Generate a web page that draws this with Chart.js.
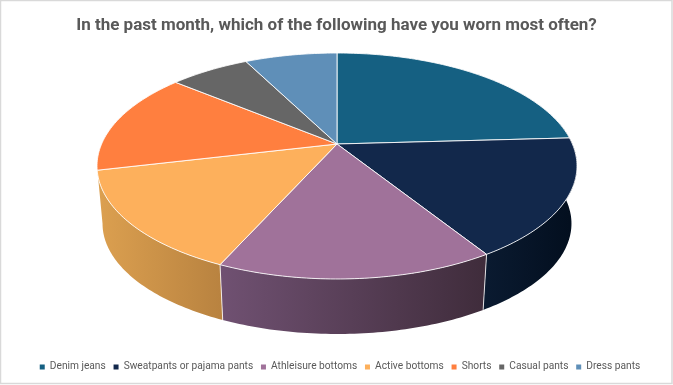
<!DOCTYPE html>
<html><head><meta charset="utf-8">
<style>html,body{margin:0;padding:0;background:#fff}#wrap{position:absolute;left:0;top:0;width:673px;height:385px}</style>
<script src="https://cdn.jsdelivr.net/npm/chart.js@4"></script>
</head><body><div id="wrap"><canvas id="c" width="673" height="385"></canvas></div>
<script>
const categories = ["Denim jeans","Sweatpants or pajama pants","Athleisure bottoms","Active bottoms","Shorts","Casual pants","Dress pants"];
const shares = [24.1,17,15.6,14.6,14.7,6.5,7.5];
const colors = ["#156082","#12284B","#A0729A","#FDB05C","#FF7F3F","#666666","#5F8FB8"];
const wallLeft = ["#0E4157","#0A1A30","#705172","#DCA050","#D96A33","#444444","#3F6080"];
const wallRight = ["#0B3040","#030F1F","#3F2C3B","#B98340","#C46030","#333333","#33506A"];
const titleText = "In the past month, which of the following have you worn most often?";

// perspective projection of the unit disc
const P = {cx:337, cy:144, A:235.4, B:108.7, k:0.1947, s:0.977, vy:2670};
const leftTangent = Math.PI - Math.asin(P.k);
function topPt(a){ // a: chart.js angle, -PI/2 is 12 o'clock
  const u=Math.cos(a), v=Math.sin(a), w=1-P.k*v;
  return [P.cx+P.A*u/w, P.cy+P.B*v/w];
}
function botPt(a){
  const [x,y]=topPt(a);
  return [P.cx+(x-P.cx)*P.s, P.vy-(P.vy-y)*P.s];
}
function rim(ctx,a0,a1,f,move){
  const n=Math.max(2,Math.ceil(Math.abs(a1-a0)*60));
  for(let i=0;i<=n;i++){
    const p=f(a0+(a1-a0)*i/n);
    if(i===0&&move) ctx.moveTo(p[0],p[1]); else ctx.lineTo(p[0],p[1]);
  }
}
Chart.ArcElement.prototype.draw=function(ctx){
  const o=this.options;
  ctx.save();
  ctx.beginPath();
  ctx.moveTo(P.cx,P.cy);
  rim(ctx,this.startAngle,this.endAngle,topPt,false);
  ctx.closePath();
  ctx.fillStyle=o.backgroundColor;
  ctx.fill();
  ctx.strokeStyle='rgba(255,255,255,0.85)';
  ctx.lineWidth=1;
  ctx.lineJoin='round';
  ctx.stroke();
  ctx.restore();
};
const walls={id:'walls',beforeDatasetsDraw(chart){
  const ctx=chart.ctx, arcs=chart.getDatasetMeta(0).data;
  arcs.forEach((arc,i)=>{
    if(arc.startAngle>=leftTangent-0.05) return;
    const front0=Math.max(arc.startAngle,-0.2);
    const front1=arc.endAngle>=leftTangent-0.05?leftTangent:arc.endAngle;
    if(front1<=front0) return;
    const a=topPt(front0), b=topPt(front1);
    const g=ctx.createLinearGradient(Math.min(a[0],b[0]),0,Math.max(a[0],b[0]),0);
    g.addColorStop(0,wallLeft[i]); g.addColorStop(1,wallRight[i]);
    ctx.save();
    ctx.beginPath();
    rim(ctx,front0,front1,topPt,true);
    rim(ctx,front1,front0,botPt,false);
    ctx.closePath();
    ctx.fillStyle=g; ctx.fill();
    ctx.restore();
  });
  // seams between wall faces
  ctx.save();
  ctx.strokeStyle='rgba(255,255,255,0.8)'; ctx.lineWidth=1;
  arcs.forEach(arc=>{
    const a=arc.startAngle;
    if(a>-0.05&&a<leftTangent-0.05){
      const p=topPt(a),q=botPt(a);
      ctx.beginPath();ctx.moveTo(p[0],p[1]);ctx.lineTo(q[0],q[1]);ctx.stroke();
    }
  });
  ctx.restore();
}};
const frame={id:'frame',
  afterLayout(chart){ chart.legend.left+=3.5; chart.legend.right+=3.5; },
  beforeDraw(chart){
  const ctx=chart.ctx;
  ctx.save();
  ctx.fillStyle='#fff';ctx.fillRect(0,0,673,385);
  ctx.strokeStyle='#D9D9D9';ctx.lineWidth=1.5;
  ctx.strokeRect(0.5,0.5,671.5,383);
  ctx.restore();
}};
new Chart(document.getElementById('c'),{
  type:'pie',
  data:{labels:categories,datasets:[{data:shares,backgroundColor:colors,borderWidth:0}]},
  plugins:[frame,walls],
  options:{
    responsive:false,animation:false,
    layout:{padding:{top:9,bottom:3,left:0,right:0}},
    plugins:{
      tooltip:{enabled:false},
      title:{display:true,text:titleText,color:'#595959',align:'center',
        font:{family:'Roboto',size:17,weight:'700'},padding:{top:7,bottom:10}},
      legend:{position:'bottom',labels:{color:'#595959',boxWidth:5,boxHeight:5,padding:7.8,
        font:{family:'Roboto',size:10.2}}}
    }
  }
});
</script></body></html>
